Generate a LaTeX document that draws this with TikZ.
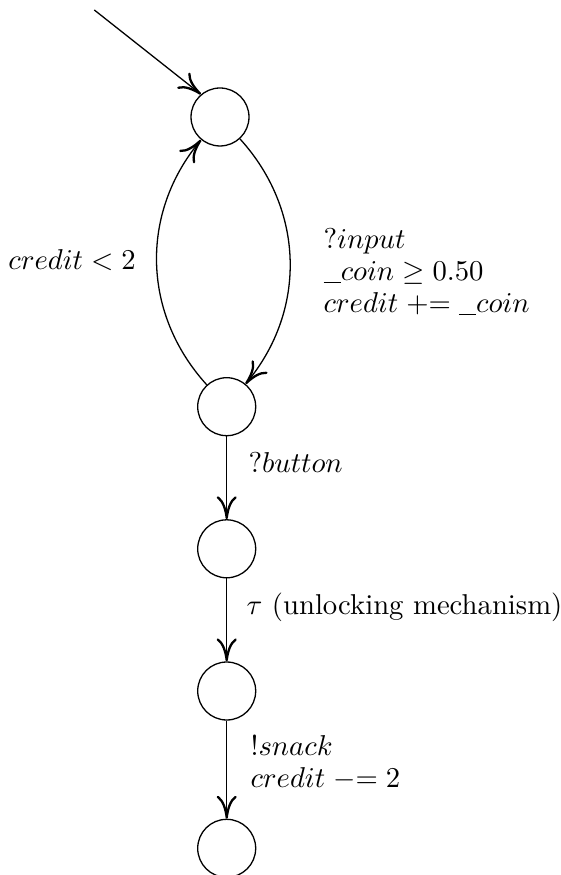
\documentclass[tikz,border=0pt]{standalone}
\usetikzlibrary{arrows.meta}
\begin{document}
\begin{tikzpicture}[x=0.3484pt,y=-0.3484pt,
  state/.style={draw,circle,minimum size=20.2pt,inner sep=0pt,line width=0.45pt},
  edge/.style={draw,line width=0.45pt,-{To[length=8pt,width=7pt,line width=0.8pt]}},
  lbl/.style={inner sep=0pt,align=left}]
\useasboundingbox (0,0) rectangle (560,875);
\node[state] (s1) at (220,117) {};
\node[state] (s2) at (226.7,406.7) {};
\node[state] (s3) at (226.7,548.8) {};
\node[state] (s4) at (226.7,691) {};
\node[state] (s5) at (226.7,848.3) {};
\coordinate (init) at (94.3,10);
\draw[edge] (init) -- (s1.130);
\draw[edge] (s1) to[bend left=41] (s2);
\draw[edge] (s2) to[bend left=41] (s1);
\draw[edge] (s2) -- (s3);
\draw[edge] (s3) -- (s4);
\draw[edge] (s4) -- (s5);
\node[lbl,anchor=base east] (l1) at (136.4,270) {$credit < 2$};
\node[lbl,anchor=base west] (l2) at (323,313) {$?input$\\[-0.85pt]$\rule[-0.8pt]{6pt}{0.4pt}coin \geq 0.50$\\[-0.85pt]$credit \mathrel{+}= \rule[-0.8pt]{6pt}{0.4pt}coin$};
\node[lbl,anchor=base west] (l3) at (248,473) {$?button$};
\node[lbl,anchor=base west] (l4) at (246,614) {$\tau$ (unlocking mechanism)};
\node[lbl,anchor=base west] (l5) at (250,787) {$!snack$\\[-0.85pt]$credit \mathrel{-}= 2$};
\end{tikzpicture}
\end{document}
